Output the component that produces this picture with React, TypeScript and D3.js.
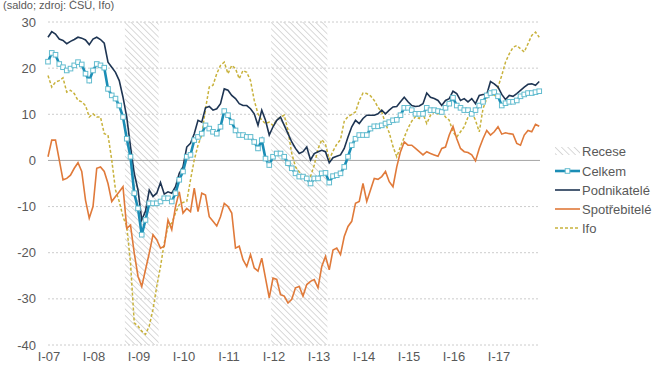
import React from "react";
import * as d3 from "d3";

// Monthly data, Jan 2007 – Dec 2017
const START_YEAR = 2007;

const celkem = [
  21.4, 23.3, 22.9, 20.9, 20.2, 19.5, 19.9, 20.6, 21.3, 20.8, 18.8, 17.3, 19.5, 20.9, 20.6, 20.1,
  15.5, 14.1, 13.4, 11.9, 9.4, 4.7, 0.8, -7.1, -10.4, -16.1, -12.9, -9.3, -9.3, -9.3, -8.9, -8.2,
  -8.2, -8.9, -7.1, -4.2, -2.4, 0.8, 1.2, 4.4, 5.1, 5.8, 7.6, 6.9, 6.2, 5.8, 7.3, 10.7,
  9.8, 8.3, 6.5, 5.5, 5.5, 5.1, 5.1, 4.0, 2.6, 4.4, 0.4, -1.0, 0.8, 1.5, 1.5, 0.8,
  -0.6, -1.7, -2.8, -3.5, -3.5, -3.9, -5.0, -3.9, -3.9, -2.8, -2.7, -4.8, -3.4, -3.2, -2.8, -1.4,
  0.8, 3.3, 4.7, 5.5, 5.5, 5.5, 6.9, 7.4, 7.4, 7.6, 8.0, 8.3, 8.7, 8.8, 9.8, 11.4,
  11.4, 10.9, 10.1, 10.1, 10.1, 11.4, 10.9, 10.9, 10.7, 10.5, 11.4, 12.3, 13.6, 11.9, 11.4, 10.9,
  10.9, 10.1, 10.9, 11.9, 12.7, 14.1, 14.6, 14.8, 13.9, 11.9, 12.4, 12.7, 12.7, 13.0, 13.9, 14.3,
  14.6, 14.6, 14.8, 15.0,
];

const podnikatele = [
  26.7, 27.9, 27.4, 26.3, 26.0, 25.3, 25.8, 26.2, 26.7, 26.5, 26.1, 25.1, 26.3, 26.7, 26.2, 25.4,
  21.3, 20.2, 19.1, 17.3, 13.7, 9.4, 3.0, -2.8, -6.4, -12.9, -11.0, -6.4, -7.8, -7.1, -4.8, -7.3,
  -6.8, -7.1, -5.7, -2.8, -1.4, 2.9, 3.7, 5.8, 8.7, 8.3, 11.4, 11.7, 10.9, 11.2, 12.3, 15.5,
  15.2, 14.1, 13.4, 12.3, 11.9, 11.9, 11.2, 10.1, 7.6, 10.9, 8.7, 5.5, 7.3, 8.7, 9.4, 7.6,
  5.8, 4.0, 2.6, 1.5, 1.9, 2.9, 0.1, 1.5, 1.9, 2.2, 1.9, -0.5, 0.6, 0.9, 1.2, 2.6,
  5.1, 7.3, 8.7, 8.0, 9.1, 9.8, 9.8, 9.8, 10.1, 10.9, 10.1, 10.9, 11.6, 11.7, 12.7, 13.7,
  12.7, 11.9, 11.7, 11.8, 12.3, 14.6, 13.7, 13.4, 13.0, 11.9, 13.0, 13.4, 15.0, 14.5, 13.0, 13.4,
  12.7, 13.4, 12.3, 14.1, 14.3, 14.3, 17.1, 16.6, 15.9, 14.3, 13.2, 14.1, 13.9, 14.5, 15.2, 15.9,
  16.5, 16.6, 16.3, 17.1,
];

const spotrebitele = [
  0.8, 4.4, 4.4, 0.1, -4.2, -3.9, -3.2, -1.7, -0.5, -2.4, -8.6, -12.5, -10.0, -1.7, -1.4, -2.4,
  -5.0, -8.9, -7.8, -6.8, -5.7, -14.7, -14.0, -20.1, -25.1, -27.3, -23.7, -20.1, -16.1, -17.2, -19.0, -18.6,
  -12.9, -15.0, -10.0, -6.8, -11.4, -10.4, -11.1, -6.0, -11.1, -7.1, -7.5, -12.2, -13.2, -14.2, -12.2, -9.3,
  -10.0, -11.4, -19.0, -18.6, -21.5, -23.0, -20.4, -23.3, -24.0, -21.2, -25.5, -29.8, -25.5, -25.8, -29.1, -29.4,
  -30.9, -30.1, -27.6, -27.3, -29.4, -26.9, -26.2, -25.8, -27.6, -23.0, -20.8, -23.7, -19.4, -19.0, -20.4, -16.5,
  -14.3, -13.2, -9.3, -8.9, -5.0, -8.9, -6.4, -3.9, -4.1, -3.5, -2.4, -4.6, -5.7, -1.4, 1.9, 4.0,
  3.3, 3.3, 2.6, 1.9, 1.2, 1.9, 1.5, 1.2, 0.9, 2.6, 2.9, 5.5, 7.4, 4.7, 2.6, 1.9,
  1.7, 1.2, -0.1, 2.6, 4.7, 6.5, 5.5, 6.2, 7.3, 5.7, 6.0, 5.8, 5.7, 3.7, 3.3, 5.5,
  6.5, 6.2, 7.8, 7.4,
];

const ifo = [
  18.4, 15.9, 17.0, 17.3, 17.9, 14.8, 15.2, 14.5, 13.0, 12.7, 11.9, 9.4, 10.1, 9.4, 9.4, 5.8,
  5.5, 0.1, -6.4, -8.9, -12.2, -14.3, -22.2, -35.2, -35.9, -37.0, -37.7, -35.9, -32.3, -27.3, -23.0, -17.9,
  -14.3, -13.6, -11.4, -9.6, -9.1, -8.9, -4.2, 0.1, 3.3, 5.5, 11.2, 15.9, 16.3, 18.8, 20.6, 21.3,
  18.8, 20.6, 19.9, 17.7, 19.5, 19.1, 17.3, 13.0, 10.1, 8.7, 8.0, 8.3, 7.6, 8.7, 9.4, 9.8,
  6.5, 1.5, -1.4, -2.5, -3.5, -3.5, -3.5, -1.0, 2.5, 4.5, 3.5, 0.2, 2.0, 3.5, 4.5, 8.5,
  9.5, 10.0, 10.5, 13.0, 14.6, 14.5, 14.0, 13.0, 11.5, 10.5, 8.0, 6.0, 3.0, 0.8, 3.0, 5.0,
  7.0, 8.5, 9.5, 9.1, 10.1, 8.0, 9.8, 10.5, 10.1, 10.5, 9.4, 8.7, 6.2, 5.1, 6.2, 7.3,
  9.4, 10.5, 8.7, 6.2, 11.2, 13.4, 14.8, 14.1, 15.9, 18.4, 21.3, 23.1, 24.5, 24.9, 24.2, 23.5,
  25.3, 27.1, 27.8, 26.7,
];

const yTicks = [30, 20, 10, 0, -10, -20, -30, -40];
const xTickLabels = ["I-07", "I-08", "I-09", "I-10", "I-11", "I-12", "I-13", "I-14", "I-15", "I-16", "I-17"];
// recession periods (first month, last month)
const recessions: [string, string][] = [
  ["2008-10", "2009-06"],
  ["2012-01", "2013-03"],
];
const legendLabels = ["Recese", "Celkem", "Podnikatelé", "Spotřebitelé", "Ifo"];

const monthIndex = (s: string) => {
  const [yy, mm] = s.split("-").map(Number);
  return (yy - START_YEAR) * 12 + (mm - 1);
};

const W = 659;
const H = 365;
const FONT = "'Liberation Sans', Arial, sans-serif";
const GREY = "#595959";
const C_CELKEM = "#1b8db5";
const C_CELKEM_MK = "#63bccf";
const C_PODN = "#1e3553";
const C_SPOT = "#e07a3a";
const C_IFO = "#c8b23c";

export default function App() {
  const n = celkem.length;
  const x = d3.scaleLinear().domain([0, n - 1]).range([48, 48 + (n - 1) * 3.75]);
  const y = d3.scaleLinear().domain([-40, 30]).range([345, 22]);
  const line = d3
    .line<number>()
    .x((_, i) => x(i))
    .y((d) => y(d));
  const x0 = 48;
  const x1 = 540;

  const legendY = [151, 171, 190, 209, 228];

  return (
    <div style={{ position: "fixed", left: 0, top: 0, width: W, height: H, background: "#fff" }}>
      <svg width={W} height={H} style={{ display: "block", fontFamily: FONT }}>
        <defs>
          <pattern id="hatch" width="4.5" height="4.5" patternUnits="userSpaceOnUse" patternTransform="rotate(-45)">
            <line x1="0" y1="0" x2="0" y2="4.5" stroke="#c4c4c4" strokeWidth="1.3" />
          </pattern>
        </defs>
        <rect width={W} height={H} fill="#fff" />
        <text x={3} y={9} fontSize={11} fill={GREY}>
          (saldo; zdroj: ČSÚ, Ifo)
        </text>

        {/* recessions */}
        {recessions.map(([a, b], i) => (
          <rect
            key={i}
            x={x(monthIndex(a) - 0.5)}
            width={x(monthIndex(b) + 0.5) - x(monthIndex(a) - 0.5)}
            y={y(30)}
            height={y(-40) - y(30)}
            fill="url(#hatch)"
          />
        ))}

        {/* gridlines */}
        {yTicks.map((t) => (
          <g key={t}>
            <line
              x1={x0}
              x2={x1}
              y1={y(t)}
              y2={y(t)}
              stroke={t === 0 ? "#a6a6a6" : "#cccccc"}
              strokeWidth={1}
              strokeDasharray={t === 0 ? undefined : "2,2"}
            />
            <text x={36} y={y(t)} dy="0.35em" textAnchor="end" fontSize={13} fill={GREY}>
              {t}
            </text>
          </g>
        ))}

        {/* x labels */}
        {xTickLabels.map((l, i) => (
          <text key={l} x={x(i * 12) + 1} y={361} textAnchor="middle" fontSize={13} fill={GREY}>
            {l}
          </text>
        ))}

        {/* series */}
        <path d={line(ifo) || ""} fill="none" stroke={C_IFO} strokeWidth={1.5} strokeDasharray="3,2" />
        <path d={line(spotrebitele) || ""} fill="none" stroke={C_SPOT} strokeWidth={1.6} />
        <path d={line(podnikatele) || ""} fill="none" stroke={C_PODN} strokeWidth={1.6} />
        <path d={line(celkem) || ""} fill="none" stroke={C_CELKEM} strokeWidth={2.6} />
        {celkem.map((d, i) => (
          <rect
            key={i}
            x={x(i) - 2.3}
            y={y(d) - 2.3}
            width={4.6}
            height={4.6}
            fill="#ffffff"
            stroke={C_CELKEM_MK}
            strokeWidth={1}
          />
        ))}

        {/* legend */}
        <g fontSize={13} fill={GREY}>
          <rect x={555} y={legendY[0] - 4} width={25} height={8} fill="url(#hatch)" />
          <line x1={555} x2={580} y1={legendY[1]} y2={legendY[1]} stroke={C_CELKEM} strokeWidth={2.6} />
          <rect x={565.2} y={legendY[1] - 2.3} width={4.6} height={4.6} fill="#fff" stroke={C_CELKEM_MK} />
          <line x1={555} x2={580} y1={legendY[2]} y2={legendY[2]} stroke={C_PODN} strokeWidth={1.6} />
          <line x1={555} x2={580} y1={legendY[3]} y2={legendY[3]} stroke={C_SPOT} strokeWidth={1.6} />
          <line x1={555} x2={580} y1={legendY[4]} y2={legendY[4]} stroke={C_IFO} strokeWidth={1.5} strokeDasharray="3,2" />
          {legendLabels.map((l, i) => (
            <text key={l} x={582} y={legendY[i]} dy="0.35em">
              {l}
            </text>
          ))}
        </g>
      </svg>
    </div>
  );
}
